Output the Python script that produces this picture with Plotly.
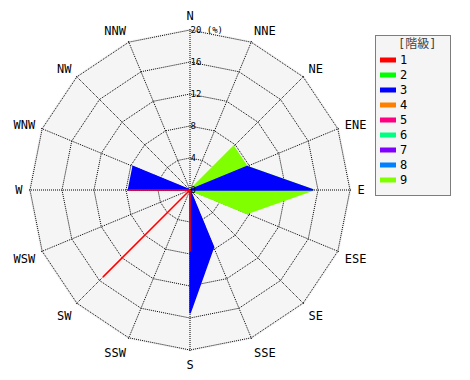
import plotly.graph_objects as go

directions = ["N", "NNE", "NE", "ENE", "E", "ESE", "SE", "SSE",
              "S", "SSW", "SW", "WSW", "W", "WNW", "NW", "NNW"]
classes = ["1", "2", "3", "4", "5", "6", "7", "8", "9"]
colors = ["#ff0000", "#00ff00", "#0000ff", "#ff8000", "#ff0080",
          "#00ff80", "#8000ff", "#0080ff", "#80ff00"]

class1 = [0, 0, 0, 0, 0, 0, 0, 0, 7.7, 0, 15.4, 0, 7.7, 0, 0, 0]
class2 = [0, 0, 0, 0, 0, 0, 0, 0, 0, 0, 0, 0, 0, 0, 0, 0]
class3 = [0, 0, 0, 7.7, 15.4, 0, 0, 7.7, 15.4, 0, 0, 0, 7.7, 7.7, 0, 0]
class4 = [0, 0, 0, 0, 0, 0, 0, 0, 0, 0, 0, 0, 0, 0, 0, 0]
class5 = [0, 0, 0, 0, 0, 0, 0, 0, 0, 0, 0, 0, 0, 0, 0, 0]
class6 = [0, 0, 0, 0, 0, 0, 0, 0, 0, 0, 0, 0, 0, 0, 0, 0]
class7 = [0, 0, 0, 0, 0, 0, 0, 0, 0, 0, 0, 0, 0, 0, 0, 0]
class8 = [0, 0, 0, 0, 0, 0, 0, 0, 0, 0, 0, 0, 0, 0, 0, 0]
class9 = [0, 0, 7.7, 7.7, 15.4, 7.7, 0, 0, 0, 0, 0, 0, 0, 0, 0, 0]

radial_ticks = [0, 4, 8, 12, 16, 20]
radial_labels = ["0", "4", "8", "12", "16", "20 (%)"]
legend_title = "[階級]"

series = [class1, class2, class3, class4, class5, class6, class7, class8, class9]

W, H = 470, 380
FONT = "DejaVu Sans Mono, Noto Sans CJK JP"
DOT = "1px,1px"
RMAX = 20.2

fig = go.Figure()
# draw largest class first so lower classes sit on top
for name, col, vals in reversed(list(zip(classes, colors, series))):
    fig.add_trace(go.Scatterpolar(
        r=vals + vals[:1],
        theta=directions + directions[:1],
        mode="lines",
        fill="toself",
        fillcolor=col,
        line=dict(color=col, width=1.5),
        name=name,
        showlegend=False,
        hoverinfo="skip",
    ))

cx, cy = 190, 190
R = 160 * RMAX / 20
fig.update_layout(
    width=W, height=H,
    margin=dict(l=0, r=0, t=0, b=0),
    paper_bgcolor="white",
    font=dict(family=FONT, color="#000000"),
    polar=dict(
        domain=dict(x=[(cx - R) / W, (cx + R) / W],
                    y=[(H - cy - R) / H, (H - cy + R) / H]),
        bgcolor="#f5f5f5",
        gridshape="linear",
        angularaxis=dict(
            type="category",
            categoryarray=directions,
            rotation=90,
            direction="clockwise",
            showline=False,
            gridcolor="#000000",
            griddash=DOT,
            gridwidth=1,
            ticks="outside",
            ticklen=3,
            tickcolor="rgba(0,0,0,0)",
            tickfont=dict(size=12, family=FONT, color="#000000"),
        ),
        radialaxis=dict(
            range=[0, RMAX],
            angle=90,
            tickangle=90,
            tickvals=radial_ticks,
            ticktext=radial_labels,
            showline=False,
            ticks="",
            gridcolor="#000000",
            griddash=DOT,
            gridwidth=1,
            tickfont=dict(size=9, family=FONT, color="#000000"),
        ),
    ),
)

# legend box drawn from the class names and colours
lx0, lx1, ly0, ly1 = 375.5, 450.5, 35.5, 195.5
fig.add_shape(type="rect", xref="paper", yref="paper",
              x0=lx0 / W, x1=lx1 / W, y0=1 - ly1 / H, y1=1 - ly0 / H,
              line=dict(color="#000000", width=1, dash=DOT),
              fillcolor="#f5f5f5", layer="below")
fig.add_annotation(xref="paper", yref="paper", x=417 / W, y=1 - 44 / H,
                   text=legend_title, showarrow=False,
                   xanchor="center", yanchor="middle",
                   font=dict(size=12, family=FONT, color="#444444"))
for i, (name, col) in enumerate(zip(classes, colors)):
    yc = 60 + 15 * i
    fig.add_shape(type="rect", xref="paper", yref="paper",
                  x0=380 / W, x1=396 / W,
                  y0=1 - (yc + 2.5) / H, y1=1 - (yc - 2.5) / H,
                  line=dict(width=0), fillcolor=col)
    fig.add_annotation(xref="paper", yref="paper", x=398 / W, y=1 - yc / H,
                       text=name, showarrow=False,
                       xanchor="left", yanchor="middle",
                       font=dict(size=12, family=FONT, color="#000000"))

fig.write_html("out.html")
